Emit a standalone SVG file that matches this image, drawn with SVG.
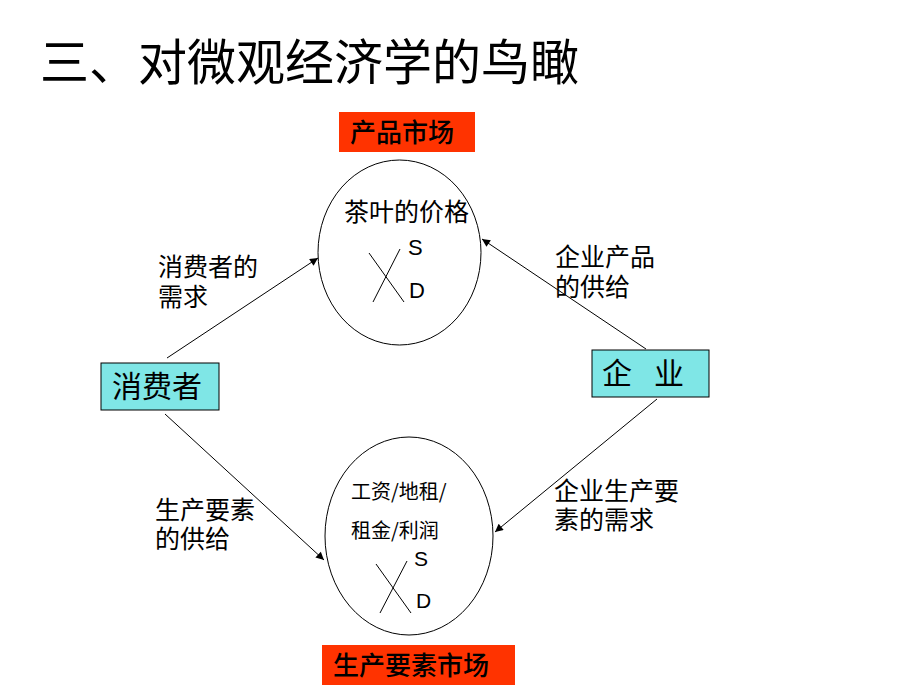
<svg xmlns="http://www.w3.org/2000/svg" width="920" height="690" viewBox="0 0 920 690">
<style>
.cjk{font-family:"Noto Sans CJK SC","Liberation Sans",sans-serif;fill:#000}
.lat{font-family:"Liberation Sans",Arial,sans-serif;fill:#000}
.red{fill:#FF3300;stroke:none}
.cyan{fill:#7FE6E6;stroke:#000;stroke-width:1}
.ell{fill:#fff;stroke:#000;stroke-width:1}
.thin{stroke:#000;stroke-width:1;fill:none}
.conn{stroke:#000;stroke-width:1;fill:none;marker-end:url(#ah)}
.lbl{font-size:25px}
</style>
<defs>
<marker id="ah" viewBox="0 0 10 10" refX="10" refY="5" markerWidth="10" markerHeight="8" markerUnits="userSpaceOnUse" orient="auto">
<path d="M0,0 L10,5 L0,10 z" fill="#000"/>
</marker>
</defs>
<rect width="920" height="690" fill="#fff"/>
<text id="title" class="cjk" x="40" y="80" font-size="49">三、对微观经济学的鸟瞰</text>

<g id="product-market-label">
<rect class="red" x="339" y="112" width="136" height="40"/>
<text class="cjk" x="402" y="142" font-size="26" font-weight="500" text-anchor="middle">产品市场</text>
</g>

<g id="product-market">
<ellipse class="ell" cx="399.5" cy="252.5" rx="81.5" ry="92.5"/>
<text class="cjk" x="344" y="221" font-size="25">茶叶的价格</text>
<line class="thin" x1="369" y1="253" x2="404" y2="302"/>
<line class="thin" x1="400" y1="249" x2="373" y2="302"/>
<text class="lat" x="408" y="255" font-size="22">S</text>
<text class="lat" x="409" y="298" font-size="22">D</text>
</g>

<g id="consumer">
<rect class="cyan" x="101" y="363" width="118" height="47"/>
<text class="cjk" x="112" y="397" font-size="30">消费者</text>
</g>

<g id="firm">
<rect class="cyan" x="592" y="350" width="117" height="47"/>
<text class="cjk" y="384" font-size="30"><tspan x="602">企</tspan><tspan x="654">业</tspan></text>
</g>

<g id="factor-market">
<ellipse class="ell" cx="409" cy="536" rx="84" ry="99"/>
<text class="cjk" x="351" y="499" font-size="20">工资/地租/</text>
<text class="cjk" x="351" y="538" font-size="20">租金/利润</text>
<line class="thin" x1="376" y1="564" x2="411" y2="613"/>
<line class="thin" x1="407" y1="561" x2="380" y2="613"/>
<text class="lat" x="414" y="566" font-size="21">S</text>
<text class="lat" x="416" y="608" font-size="21">D</text>
</g>

<g id="factor-market-label">
<rect class="red" x="322" y="645" width="193" height="40"/>
<text class="cjk" x="411" y="675" font-size="26" font-weight="500" text-anchor="middle">生产要素市场</text>
</g>

<g id="connectors">
<line class="conn" x1="167" y1="358" x2="318" y2="258"/>
<line class="conn" x1="646" y1="349" x2="482" y2="239"/>
<line class="conn" x1="165" y1="414" x2="324" y2="560"/>
<line class="conn" x1="657" y1="399" x2="495" y2="532"/>
</g>

<g id="connector-labels">
<text class="cjk lbl" x="158" y="276"><tspan x="158">消费者的</tspan><tspan x="158" dy="30">需求</tspan></text>
<text class="cjk lbl" x="555" y="266"><tspan x="555">企业产品</tspan><tspan x="555" dy="30">的供给</tspan></text>
<text class="cjk lbl" x="155" y="519"><tspan x="155">生产要素</tspan><tspan x="155" dy="29">的供给</tspan></text>
<text class="cjk lbl" x="554" y="500"><tspan x="554">企业生产要</tspan><tspan x="554" dy="29">素的需求</tspan></text>
</g>
</svg>
